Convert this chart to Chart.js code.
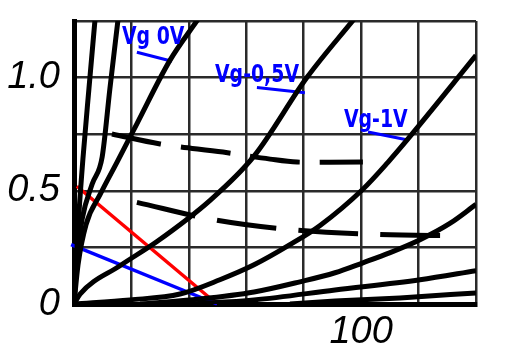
<!DOCTYPE html>
<html>
<head>
<meta charset="utf-8">
<script src="https://cdn.jsdelivr.net/npm/chart.js@4/dist/chart.umd.min.js"></script>
<style>
  html, body { margin: 0; padding: 0; background: #ffffff; }
  #wrap { width: 508px; height: 352px; position: relative; }
</style>
</head>
<body>
<div id="wrap"><canvas id="c" width="508" height="352"></canvas></div>
<script>
// ---- axis ranges and tick labels ----
const xMin = 0, xMax = 140, xStep = 20;
const yMin = 0, yMax = 1.25, yStep = 0.25;
const xLabelValues = [100];
const xLabelTexts = ['100'];
const yLabelValues = [0, 0.5, 1.0];
const yLabelTexts = ['0', '0.5', '1.0'];

// ---- characteristic curves (x = anode voltage, y = current) ----
const curve1X = [0, 0.7, 1.7, 3.1, 5.2, 7.3];
const curve1Y = [0, 0.173, 0.396, 0.64, 0.951, 1.253];
const curve2X = [0, 1.0, 2.8, 6.3, 9.8, 12.5, 15.3];
const curve2Y = [0, 0.196, 0.373, 0.529, 0.649, 0.951, 1.253];
const vg0X = [0, 1.4, 4.2, 9.1, 15.0, 21.9, 33.4, 43.2];
const vg0Y = [0, 0.173, 0.351, 0.484, 0.627, 0.796, 1.076, 1.258];
const vg05X = [0, 2.1, 16.0, 28.9, 47.4, 62.7, 81.1, 97.5];
const vg05Y = [0, 0.044, 0.169, 0.276, 0.458, 0.653, 1.0, 1.258];
const vg1X = [0, 19.5, 36.9, 50.8, 62.7, 75.2, 85.7, 100.6, 109.4, 116.3, 140];
const vg1Y = [0, 0.018, 0.044, 0.107, 0.173, 0.262, 0.347, 0.507, 0.627, 0.729, 1.098];
const curve6X = [23.0, 43.9, 62.7, 78.7, 90.9, 100.6, 110.1, 120.5, 130.9, 140];
const curve6Y = [0, 0.022, 0.053, 0.098, 0.138, 0.182, 0.227, 0.284, 0.356, 0.44];
const curve7X = [40.4, 62.7, 90.9, 120.5, 140];
const curve7Y = [0, 0.018, 0.062, 0.107, 0.147];
const curve8X = [75.2, 90.9, 113.5, 140];
const curve8Y = [0, 0.013, 0.027, 0.049];

// ---- dashed curves ----
const dashUpX = [13.2, 30.0, 51.9, 68.3, 77.7, 100.6];
const dashUpY = [0.751, 0.707, 0.671, 0.64, 0.627, 0.627];
const dashLowX = [21.9, 48.4, 75.2, 105.5, 134.4];
const dashLowY = [0.449, 0.373, 0.329, 0.307, 0.302];

// ---- red / blue annotation lines ----
const redX = [1.0, 49.8];
const redY = [0.52, 0];
const blueX = [-1.0, 49.8];
const blueY = [0.262, 0];

// ---- label pointer segments and label texts ----
const labelTexts = ['Vg 0V', 'Vg-0,5V', 'Vg-1V'];
const labelX = [16.7, 49.1, 94.0];
const labelY = [1.15, 0.982, 0.782];
const ptrX1 = [21.9, 63.7, 102.4];
const ptrY1 = [1.112, 0.956, 0.76];
const ptrX2 = [34.1, 80.4, 116.3];
const ptrY2 = [1.072, 0.933, 0.724];

const pts = (xs, ys) => xs.map((x, i) => ({ x: x, y: ys[i] }));

function curve(xs, ys) {
  return { data: pts(xs, ys), borderColor: '#000000', borderWidth: 5,
           pointRadius: 0, cubicInterpolationMode: 'monotone', fill: false };
}
function dashed(xs, ys, dash) {
  return { data: pts(xs, ys), borderColor: '#000000', borderWidth: 5,
           borderDash: dash, pointRadius: 0, tension: 0.35, fill: false };
}
function straight(xs, ys, color, w) {
  return { data: pts(xs, ys), borderColor: color, borderWidth: w,
           pointRadius: 0, tension: 0, fill: false, clip: 8 };
}

const datasets = [
  curve(curve1X, curve1Y),
  curve(curve2X, curve2Y),
  curve(vg0X, vg0Y),
  curve(vg05X, vg05Y),
  curve(vg1X, vg1Y),
  curve(curve6X, curve6Y),
  curve(curve7X, curve7Y),
  curve(curve8X, curve8Y),
  dashed(dashUpX, dashUpY, [50, 20]),
  dashed(dashLowX, dashLowY, [60, 22]),
  straight(blueX, blueY, '#0000ff', 3.5),
  straight(redX, redY, '#ff0000', 3.5)
];
for (let i = 0; i < labelTexts.length; i++) {
  datasets.push(straight([ptrX1[i], ptrX2[i]], [ptrY1[i], ptrY2[i]], '#0000ff', 3));
}

const labelPlugin = {
  id: 'vgLabels',
  afterDatasetsDraw(chart) {
    const ctx = chart.ctx;
    const xs = chart.scales.x, ys = chart.scales.y;
    for (let i = 0; i < labelTexts.length; i++) {
      ctx.save();
      ctx.fillStyle = '#0000ff';
      ctx.font = "bold 21px 'DejaVu Sans Condensed', 'DejaVu Sans', sans-serif";
      ctx.textAlign = 'left';
      ctx.textBaseline = 'alphabetic';
      ctx.translate(xs.getPixelForValue(labelX[i]), ys.getPixelForValue(labelY[i]));
      ctx.scale(1, 1.15);
      ctx.fillText(labelTexts[i], 0, 0);
      ctx.restore();
    }
  }
};

function pickLabel(values, texts, v) {
  const i = values.findIndex(t => Math.abs(t - v) < 1e-9);
  return i >= 0 ? texts[i] : '';
}

new Chart(document.getElementById('c'), {
  type: 'line',
  data: { datasets: datasets },
  plugins: [labelPlugin],
  options: {
    responsive: false,
    animation: false,
    events: [],
    layout: { padding: { top: 21, right: 32, left: 0, bottom: 0 } },
    plugins: { legend: { display: false }, tooltip: { enabled: false } },
    scales: {
      x: {
        type: 'linear', min: xMin, max: xMax,
        afterFit: (s) => { s.height = 48; s.paddingLeft = 0; s.paddingRight = 0; },
        grid: { color: '#2a2a2a', lineWidth: 2.5, drawTicks: false },
        border: { color: '#000000', width: 5 },
        ticks: {
          stepSize: xStep, autoSkip: false, maxRotation: 0, padding: 6,
          color: '#000000',
          font: { family: "'Liberation Sans', Arial, sans-serif", size: 38, style: 'italic' },
          callback: (v) => pickLabel(xLabelValues, xLabelTexts, v)
        }
      },
      y: {
        type: 'linear', min: yMin, max: yMax,
        afterFit: (s) => { s.width = 74; s.paddingTop = 0; s.paddingBottom = 0; },
        grid: { color: '#2a2a2a', lineWidth: 2.5, drawTicks: false },
        border: { color: '#000000', width: 5 },
        ticks: {
          stepSize: yStep, autoSkip: false, padding: 14,
          color: '#000000',
          font: { family: "'Liberation Sans', Arial, sans-serif", size: 38, style: 'italic', lineHeight: 1.0 },
          callback: (v) => pickLabel(yLabelValues, yLabelTexts, v)
        }
      }
    }
  }
});
</script>
</body>
</html>
